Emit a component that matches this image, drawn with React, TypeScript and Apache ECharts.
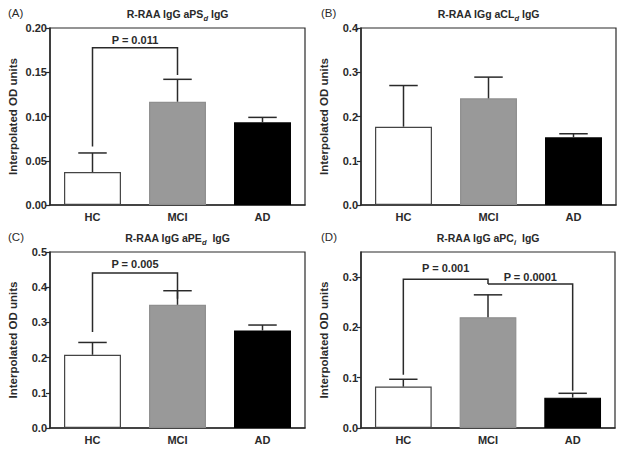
import React, { useEffect, useRef } from "react";
import * as echarts from "echarts";

const categories = ["HC", "MCI", "AD"];
const panelLetters = ["(A)", "(B)", "(C)", "(D)"];
const titleMain = ["R-RAA IgG aPS", "R-RAA IGg aCL", "R-RAA IgG aPE", "R-RAA IgG aPC"];
const titleSub = ["d", "d", "d", "i"];
const titleTail = [" IgG", " IgG", "  IgG", "  IgG"];

const meanA = [0.0373, 0.1167, 0.0934];
const semA = [0.0215, 0.0253, 0.0056];
const meanB = [0.177, 0.241, 0.153];
const semB = [0.093, 0.048, 0.008];
const meanC = [0.208, 0.35, 0.277];
const semC = [0.035, 0.04, 0.0155];
const meanD = [0.0823, 0.2203, 0.0604];
const semD = [0.0146, 0.0445, 0.0086];

const yMax = [0.2, 0.4, 0.5, 0.35];
const yInterval = [0.05, 0.1, 0.1, 0.1];
const yDecimals = [2, 1, 1, 1];

// [fromIndex, toIndex, bracketY, leftLegEnd, rightLegEnd]
const bracketsA = [[0, 1, 0.1777, 0.066, 0.147]];
const bracketLabelsA = ["P = 0.011"];
const bracketsB: number[][] = [];
const bracketLabelsB: string[] = [];
const bracketsC = [[0, 1, 0.4406, 0.2725, 0.3675]];
const bracketLabelsC = ["P = 0.005"];
const bracketsD = [
  [0, 1, 0.2957, 0.106, 0.2863],
  [1, 2, 0.2863, 0.2863, 0.0743],
];
const bracketLabelsD = ["P = 0.001", "P = 0.0001"];

const means = [meanA, meanB, meanC, meanD];
const sems = [semA, semB, semC, semD];
const brackets = [bracketsA, bracketsB, bracketsC, bracketsD];
const bracketLabels = [bracketLabelsA, bracketLabelsB, bracketLabelsC, bracketLabelsD];

const barColors = ["#ffffff", "#999999", "#000000"];
const barBorders = ["#444444", "#8f8f8f", "#000000"];
const labelLift = [[8], [], [9], [11, 7.5]];

const FONT = '"Liberation Sans", Arial, sans-serif';
const INK = "#2a2a2a";

const grids = [
  { left: 50, top: 28, width: 255, height: 177 },
  { left: 361, top: 28, width: 255, height: 177 },
  { left: 50, top: 252, width: 255, height: 176 },
  { left: 361, top: 252, width: 254, height: 176 },
];

function buildOption(): any {
  const grid: any[] = [];
  const xAxis: any[] = [];
  const yAxis: any[] = [];
  const series: any[] = [];
  const title: any[] = [];

  for (let p = 0; p < 4; p++) {
    const g = grids[p];
    grid.push({ ...g, show: true, borderColor: INK, borderWidth: 1.2, backgroundColor: "transparent" });
    xAxis.push({
      type: "category",
      gridIndex: p,
      data: categories,
      axisLine: { lineStyle: { color: INK, width: 1.5 } },
      axisTick: { show: false },
      axisLabel: { color: INK, fontWeight: "bold", fontSize: 11, fontFamily: FONT, margin: 6 },
    });
    yAxis.push({
      type: "value",
      gridIndex: p,
      min: 0,
      max: yMax[p],
      interval: yInterval[p],
      name: "Interpolated OD units",
      nameLocation: "middle",
      nameGap: 31,
      nameTextStyle: { color: INK, fontWeight: "bold", fontSize: 11.5, fontFamily: FONT },
      splitLine: { show: false },
      axisLine: { show: true, lineStyle: { color: INK, width: 1.5 } },
      axisTick: { show: true, length: 4, lineStyle: { color: INK, width: 1.2 } },
      axisLabel: {
        color: INK,
        fontWeight: "bold",
        fontSize: 11,
        fontFamily: FONT,
        margin: 3,
        showMaxLabel: p === 3 ? false : true,
        formatter: (v: number) => v.toFixed(yDecimals[p]),
      },
    });
    series.push({
      type: "bar",
      xAxisIndex: p,
      yAxisIndex: p,
      barWidth: "67%",
      data: means[p].map((v, i) => ({
        value: v,
        itemStyle: { color: barColors[i], borderColor: barBorders[i], borderWidth: 1.2 },
      })),
      z: 2,
    });
    const sd = sems[p];
    series.push({
      type: "custom",
      xAxisIndex: p,
      yAxisIndex: p,
      z: 3,
      encode: { x: 0, y: 1 },
      data: means[p].map((v, i) => [i, v, sd[i]]),
      renderItem: (params: any, api: any) => {
        const i = api.value(0);
        const v = api.value(1);
        const e = api.value(2);
        const base = api.coord([i, v]);
        const top = api.coord([i, v + e]);
        const band = api.size([1, 0])[0];
        const half = band * 0.67 * 0.25;
        return {
          type: "group",
          children: [
            { type: "line", shape: { x1: base[0], y1: base[1], x2: top[0], y2: top[1] }, style: { stroke: INK, lineWidth: 1.5 } },
            { type: "line", shape: { x1: top[0] - half, y1: top[1], x2: top[0] + half, y2: top[1] }, style: { stroke: INK, lineWidth: 1.5 } },
          ],
        };
      },
    });
    if (brackets[p].length) {
      const labels = bracketLabels[p];
      const lifts = labelLift[p];
      series.push({
        type: "custom",
        xAxisIndex: p,
        yAxisIndex: p,
        z: 4,
        encode: { x: 0, y: 2 },
        data: brackets[p],
        renderItem: (params: any, api: any) => {
          const a = api.value(0);
          const b = api.value(1);
          const y = api.value(2);
          const pa = api.coord([a, y]);
          const pb = api.coord([b, y]);
          const la = api.coord([a, api.value(3)]);
          const rb = api.coord([b, api.value(4)]);
          return {
            type: "group",
            children: [
              {
                type: "polyline",
                shape: { points: [[pa[0], la[1]], [pa[0], pa[1]], [pb[0], pb[1]], [pb[0], rb[1]]] },
                style: { stroke: INK, lineWidth: 1.5, fill: null },
              },
              {
                type: "text",
                style: {
                  text: labels[params.dataIndex],
                  x: (pa[0] + pb[0]) / 2,
                  y: pa[1] - lifts[params.dataIndex],
                  align: "center",
                  verticalAlign: "middle",
                  fontSize: 11,
                  fontWeight: "bold",
                  fontFamily: FONT,
                  fill: INK,
                },
              },
            ],
          };
        },
      });
    }
    title.push({
      text: `{m|${titleMain[p]}}{s|${titleSub[p]}}{m|${titleTail[p]}}`,
      left: g.left + g.width / 2,
      top: g.top - 22,
      textAlign: "center",
      padding: 0,
      textStyle: {
        rich: {
          m: { fontSize: 10.5, fontWeight: "bold", fontFamily: FONT, color: INK, lineHeight: 13 },
          s: { fontSize: 7.5, fontWeight: "bold", fontStyle: "italic", fontFamily: FONT, color: INK, lineHeight: 16, verticalAlign: "bottom" },
        },
      },
    });
    title.push({
      text: panelLetters[p],
      left: p % 2 === 0 ? 8 : 321,
      top: g.top - 21,
      padding: 0,
      textStyle: { fontSize: 11.5, fontWeight: "normal", fontFamily: FONT, color: INK },
    });
  }

  return { animation: false, backgroundColor: "#ffffff", title, grid, xAxis, yAxis, series };
}

export default function App() {
  const ref = useRef<HTMLDivElement>(null);
  useEffect(() => {
    if (!ref.current) return;
    const chart = echarts.init(ref.current, undefined, { renderer: "svg" });
    chart.setOption(buildOption());
    return () => chart.dispose();
  }, []);
  return (
    <div
      ref={ref}
      style={{ position: "fixed", left: 0, top: 0, width: 624, height: 449, background: "#fff" }}
    />
  );
}
